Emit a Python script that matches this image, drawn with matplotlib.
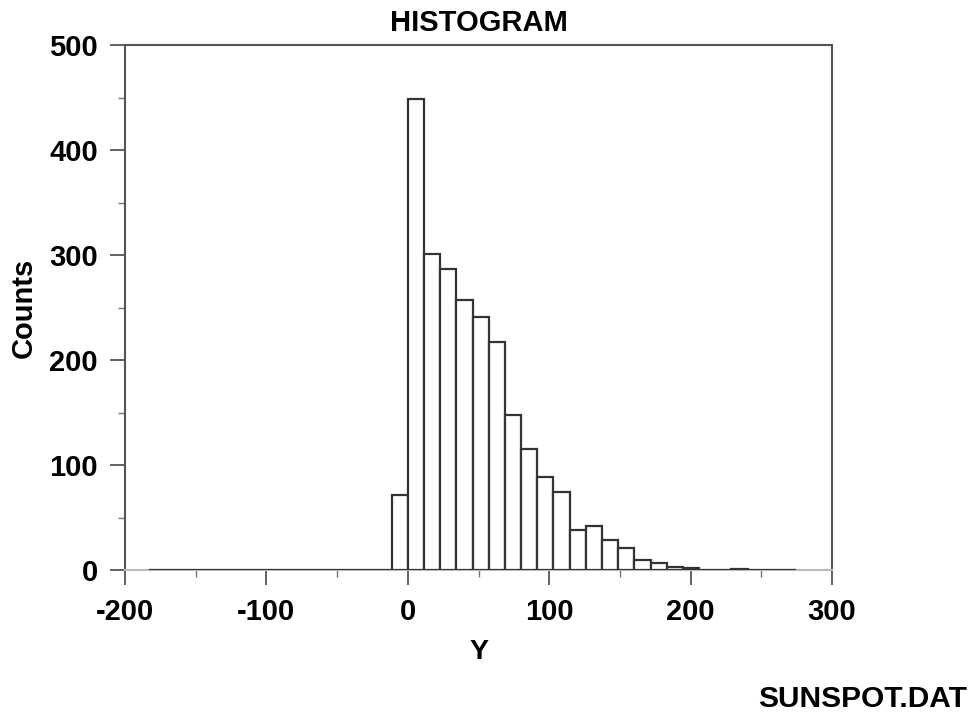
import matplotlib
matplotlib.use("Agg")
import matplotlib.pyplot as plt
from matplotlib.ticker import MultipleLocator

plt.rcParams['font.family'] = ['Liberation Sans', 'DejaVu Sans']
plt.rcParams['font.weight'] = 'bold'

# Data
title = "HISTOGRAM"
x_label = "Y"
y_label = "Counts"
footer = "SUNSPOT.DAT"
bin_start = -183.0
bin_width = 11.44
counts = [0, 0, 0, 0, 0, 0, 0, 0, 0, 0,
          0, 0, 0, 0, 0, 71, 449, 301, 287, 257,
          241, 217, 148, 115, 89, 74, 38, 42, 29, 21,
          10, 7, 3, 2, 0, 0, 1, 0, 0, 0]
x_ticks = [-200, -100, 0, 100, 200, 300]
y_ticks = [0, 100, 200, 300, 400, 500]

centers = [bin_start + bin_width * (k + 0.5) for k in range(len(counts))]

fig = plt.figure(figsize=(9.71, 7.12), dpi=100)
ax = fig.add_axes([0.1287, 0.1994, 0.7282, 0.7374])

ax.bar(centers, counts, width=bin_width, facecolor='white',
       edgecolor='#333333', linewidth=1.6, zorder=3)

ax.set_xlim(-200, 300)
ax.set_ylim(0, 500)
ax.set_xticks(x_ticks)
ax.set_yticks(y_ticks)
ax.set_xticklabels([str(v) for v in x_ticks])
ax.set_yticklabels([str(v) for v in y_ticks])
ax.xaxis.set_minor_locator(MultipleLocator(50))
ax.yaxis.set_minor_locator(MultipleLocator(50))

for s in ['left', 'top', 'right']:
    ax.spines[s].set_color('#555555')
    ax.spines[s].set_linewidth(1.5)
ax.spines['bottom'].set_color('#bbbbbb')
ax.spines['bottom'].set_linewidth(1.5)

ax.tick_params(axis='both', which='major', direction='out', length=10.5,
               width=1.3, color='#555555', labelsize=21, pad=9)
ax.tick_params(axis='both', which='minor', direction='out', length=5,
               width=1.0, color='#777777')
ax.tick_params(axis='x', which='major', pad=10)

ax.set_title(title, fontsize=21, fontweight='bold', pad=10)
ax.set_xlabel(x_label, fontsize=20.5, fontweight='bold', labelpad=9)
ax.set_ylabel(y_label, fontsize=21, fontweight='bold', labelpad=8)

fig.text(0.996, 0.018, footer, ha='right', va='center', fontsize=21.5,
         fontweight='bold')

fig.savefig("out.png", dpi=100, facecolor='white')
